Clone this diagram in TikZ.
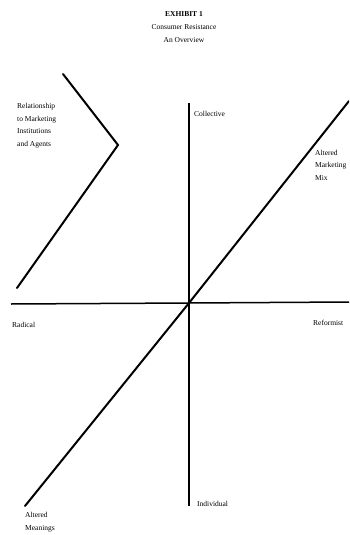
\documentclass[tikz,border=0pt]{standalone}
\usepackage{fontspec}
\setmainfont{Liberation Serif}
\usepackage{tikz}
\usetikzlibrary{calc}
\tikzset{
  lbl/.style={anchor=base west,inner sep=0pt,align=left,font=\fontsize{7.5}{12.5}\selectfont},
  ttl/.style={anchor=base,inner sep=0pt,font=\fontsize{7.5}{12}\selectfont},
  axis/.style={line width=1.5pt},
  diag/.style={line width=2pt,line cap=round,line join=miter}
}
\begin{document}
\begin{tikzpicture}[x=1pt,y=-1pt]
			\useasboundingbox (0,0) rectangle (349,535);
			\clip (0,0) rectangle (349,535);
			\coordinate (O) at (189,303);
			\coordinate (L) at (11,304);
			\coordinate (R) at (349,302);
			\coordinate (T) at (189,103);
			\coordinate (B) at (189,506);
			\coordinate (D1) at (25,506);
			\coordinate (D2) at (349,101);
			\coordinate (C1) at (63,74);
			\coordinate (C2) at (118,145);
			\coordinate (C3) at (17,288);
			% title
			\node[ttl,font=\fontsize{7.5}{12}\selectfont\bfseries] (t1) at (184,17) {EXHIBIT 1};
			\node[ttl] (t2) at (184,30) {Consumer Resistance};
			\node[ttl] (t3) at (184,42) {An Overview};
			% axes
			\draw[axis] (L)--(O)--(R);
			\draw[axis,line width=1.2pt] (T)--(O)--(B);
			\draw[diag] (D1)--(O)--(D2);
			\draw[diag] (C1)--(C2)--(C3);
			% labels (base = last line)
			\path
			(17,146) node[lbl] (rel) {Relationship\\to Marketing\\Institutions\\and Agents}
			(194,116) node[lbl] (col) {Collective}
			(315,180) node[lbl] (amm) {Altered\\Marketing\\Mix}
			(12,327) node[lbl] (rad) {Radical}
			(313,325) node[lbl] (ref) {Reformist}
			(197,506) node[lbl] (ind) {Individual}
			(25,530) node[lbl] (ame) {Altered\\Meanings}
			;
		\end{tikzpicture}
\end{document}
